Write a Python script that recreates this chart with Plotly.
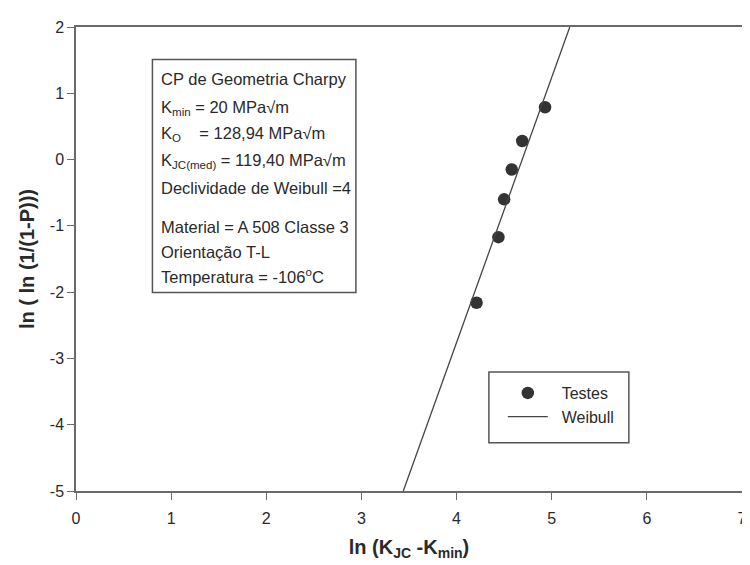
import plotly.graph_objects as go

# Data
test_x = [4.21, 4.44, 4.50, 4.58, 4.69, 4.93]
test_y = [-2.16, -1.17, -0.60, -0.15, 0.28, 0.79]
weibull_x = [3.44, 5.19]
weibull_y = [-5.0, 2.0]
x_ticks = [0, 1, 2, 3, 4, 5, 6, 7]
x_tick_labels = ["0", "1", "2", "3", "4", "5", "6", "7"]
y_ticks = [-5, -4, -3, -2, -1, 0, 1, 2]
y_tick_labels = ["-5", "-4", "-3", "-2", "-1", "0", "1", "2"]

info_lines = [
    "CP de Geometria Charpy",
    "K<sub>min</sub> = 20 MPa\u221am",
    "K<sub>O</sub>\u00a0\u00a0\u00a0\u00a0= 128,94 MPa\u221am",
    "K<sub>JC(med)</sub> = 119,40 MPa\u221am",
    "Declividade de Weibull =4",
    "Material = A 508 Classe 3",
    "Orienta\u00e7\u00e3o T-L",
    "Temperatura = -106<sup>o</sup>C",
]
info_y_px = [71.7, 101, 128, 155, 183, 222, 248, 272]

FONT = "Liberation Sans, Arial, sans-serif"
INK = "#2a2a2a"
AX = "#6a6a6a"

OFF = 8  # page body margin
W, H = 750, 565
PL, PR, PT, PB = 76, 747, 19, 491  # plot area in screen pixels
L, R, T, B = PL - OFF, OFF + W - PR, PT - OFF, OFF + H - PB
pw, ph = PR - PL, PB - PT

def px2paper_x(px):
    return (px - PL) / pw

def px2paper_y(py):
    return (PB - py) / ph

fig = go.Figure()
fig.add_trace(go.Scatter(
    x=test_x, y=test_y, mode="markers", name="\u00a0\u00a0Testes",
    marker=dict(color="#333333", size=12.5, line=dict(width=0)),
))
fig.add_trace(go.Scatter(
    x=weibull_x, y=weibull_y, mode="lines", name="\u00a0\u00a0Weibull",
    line=dict(color="#444444", width=1.3),
))

annotations = []
for txt, yp in zip(info_lines, info_y_px):
    annotations.append(dict(
        text=txt, xref="paper", yref="paper",
        x=px2paper_x(160), y=px2paper_y(yp), xanchor="left", yanchor="middle",
        showarrow=False, font=dict(family=FONT, size=16.5, color=INK),
    ))

shapes = [
    dict(type="rect", xref="paper", yref="paper",
         x0=px2paper_x(153), x1=px2paper_x(358), y0=px2paper_y(289), y1=px2paper_y(52),
         line=dict(color="#555555", width=1.5), fillcolor="rgba(0,0,0,0)"),
    dict(type="rect", xref="paper", yref="paper",
         x0=px2paper_x(492), x1=px2paper_x(633), y0=px2paper_y(442), y1=px2paper_y(370),
         line=dict(color="#555555", width=1.5), fillcolor="rgba(0,0,0,0)"),
]

fig.update_layout(
    width=W, height=H,
    margin=dict(l=L, r=R, t=T, b=B),
    paper_bgcolor="white", plot_bgcolor="white",
    font=dict(family=FONT, color=INK),
    showlegend=True,
    legend=dict(
        x=px2paper_x(506), y=px2paper_y(374), xanchor="left", yanchor="top",
        bgcolor="rgba(0,0,0,0)", borderwidth=0,
        font=dict(family=FONT, size=16, color=INK),
        itemwidth=40, tracegroupgap=0,
    ),
    annotations=annotations,
    shapes=shapes,
)
fig.update_xaxes(
    range=[0, 7], tickvals=x_ticks, ticktext=x_tick_labels, ticks="outside",
    ticklen=7, tickcolor=AX, ticklabelstandoff=5,
    showline=True, linecolor=AX, linewidth=1.5, mirror=True, showgrid=False,
    zeroline=False, tickfont=dict(family=FONT, size=16, color=INK),
    title=dict(text="<b>ln (K<sub>JC</sub> -K<sub>min</sub>)</b>", standoff=14,
               font=dict(family=FONT, size=20, color=INK)),
)
fig.update_yaxes(
    range=[-5, 2], tickvals=y_ticks, ticktext=y_tick_labels, ticks="outside",
    ticklen=7, tickcolor=AX,
    showline=True, linecolor=AX, linewidth=1.5, mirror=True, showgrid=False,
    zeroline=False, tickfont=dict(family=FONT, size=16, color=INK),
    title=dict(text="<b>ln ( ln (1/(1-P)))</b>", standoff=10,
               font=dict(family=FONT, size=20, color=INK)),
)

fig.write_html("out.html")
